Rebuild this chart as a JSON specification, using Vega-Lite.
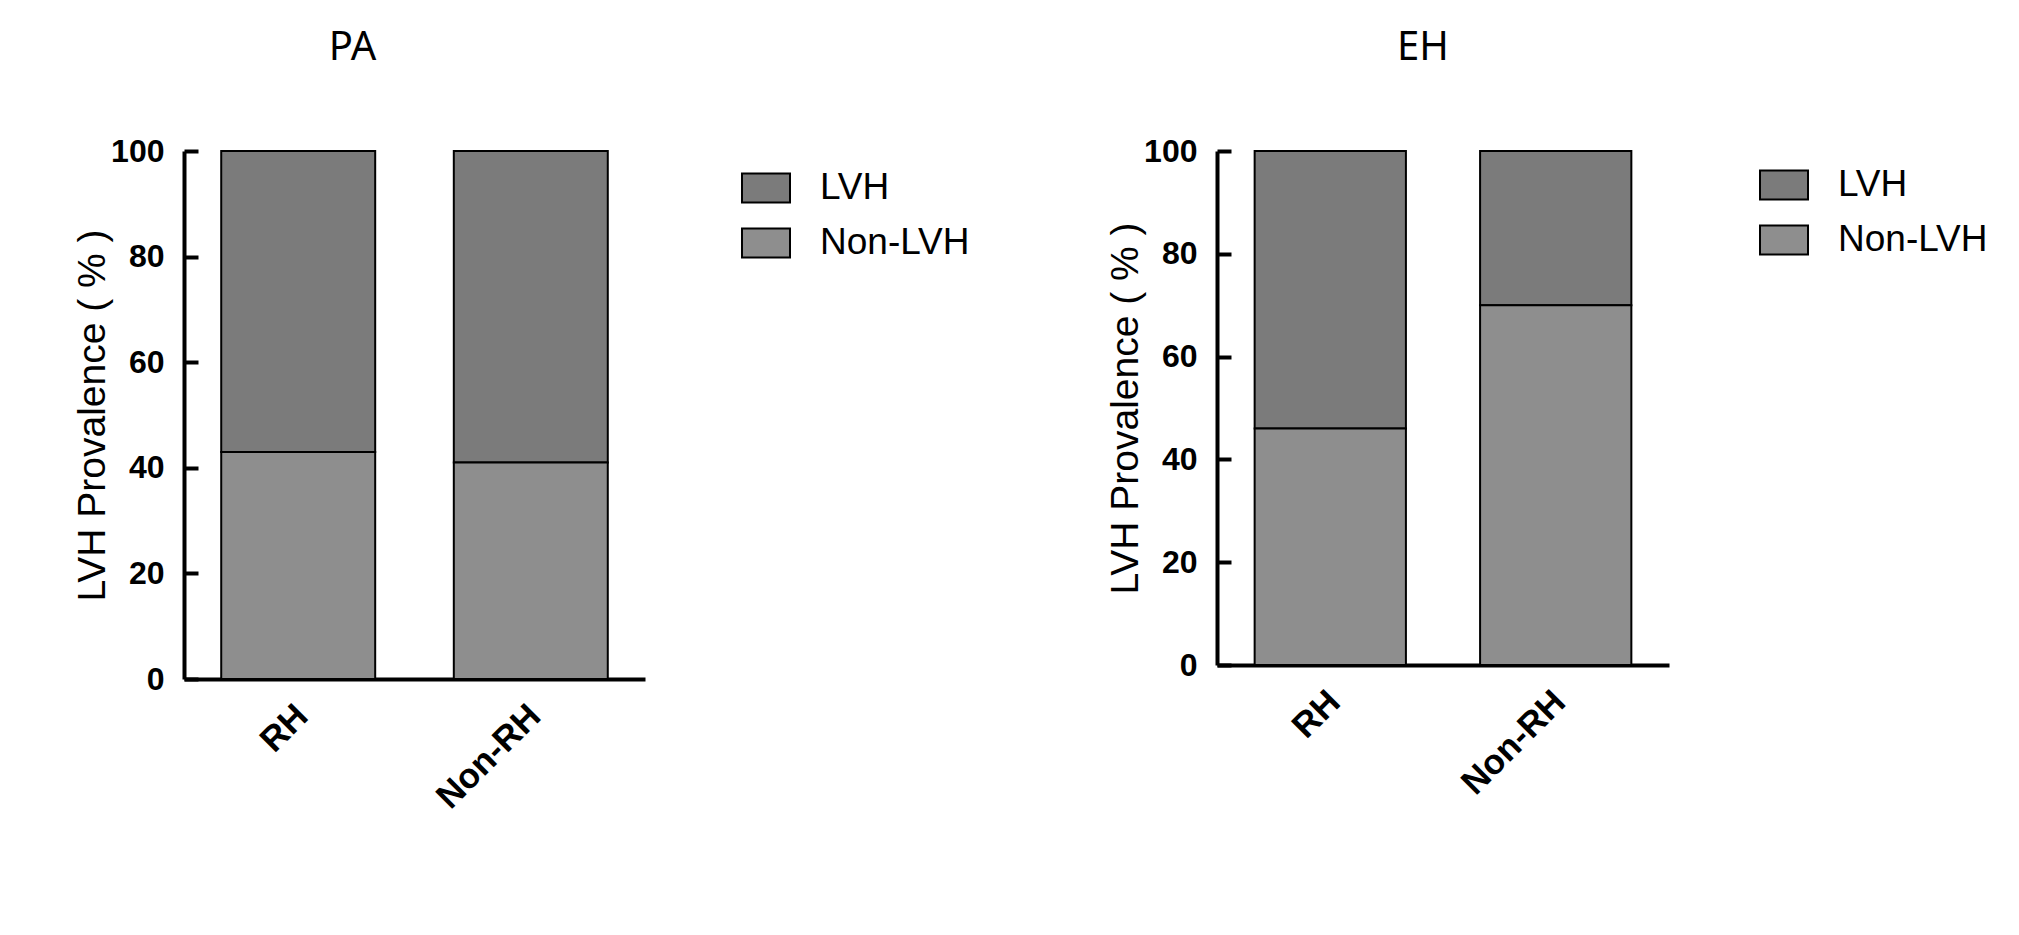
{
  "$schema": "https://vega.github.io/schema/vega-lite/v6.json",
  "background": "white",
  "padding": {"left": 73, "top": 28, "right": 0, "bottom": 0},
  "datasets": {
    "pa": [
      {"group": "RH", "status": "LVH", "value": 57},
      {"group": "RH", "status": "Non-LVH", "value": 43},
      {"group": "Non-RH", "status": "LVH", "value": 59},
      {"group": "Non-RH", "status": "Non-LVH", "value": 41}
    ],
    "eh": [
      {"group": "RH", "status": "LVH", "value": 54},
      {"group": "RH", "status": "Non-LVH", "value": 46},
      {"group": "Non-RH", "status": "LVH", "value": 30},
      {"group": "Non-RH", "status": "Non-LVH", "value": 70}
    ]
  },
  "config": {
    "view": {"stroke": null},
    "font": "Liberation Sans",
    "axis": {
      "labelFont": "Liberation Sans",
      "labelFontWeight": "bold",
      "labelFontSize": 32,
      "labelColor": "black",
      "domainColor": "black",
      "domainWidth": 4,
      "tickColor": "black",
      "tickWidth": 4,
      "grid": false,
      "titleFont": "Liberation Sans",
      "titleFontWeight": "normal",
      "titleFontSize": 39,
      "titleColor": "black"
    },
    "legend": {
      "labelFont": "Liberation Sans",
      "labelFontSize": 37,
      "labelColor": "black",
      "symbolType": "M-1,-0.6L1,-0.6L1,0.6L-1,0.6Z",
      "symbolSize": 2304,
      "symbolStrokeColor": "black",
      "symbolStrokeWidth": 2,
      "symbolOpacity": 1,
      "labelOffset": 29,
      "rowPadding": 11,
      "padding": 0
    },
    "title": {
      "font": "Noto Sans",
      "fontSize": 40,
      "fontWeight": "normal",
      "color": "black"
    }
  },
  "spacing": 136,
  "resolve": {"legend": {"fill": "independent"}, "scale": {"fill": "independent", "y": "independent", "x": "independent"}},
  "hconcat": [
    {
      "title": {"text": "PA", "anchor": "middle", "dx": -62, "offset": 67},
      "data": {"name": "pa"},
      "width": 461,
      "height": 528,
      "mark": {"type": "bar", "stroke": "black", "strokeWidth": 2, "opacity": 1},
      "encoding": {
        "x": {
          "field": "group", "type": "nominal", "sort": ["RH", "Non-RH"],
          "scale": {"paddingInner": 0.338, "paddingOuter": 0.16},
          "axis": {"title": null, "ticks": false, "labelAngle": -45, "labelAlign": "right", "labelBaseline": "middle", "labelPadding": 31, "labelOffset": 4, "labelFontSize": 35}
        },
        "y": {
          "field": "value", "type": "quantitative", "stack": "zero",
          "scale": {"domain": [0, 100], "nice": false},
          "axis": {"title": "LVH Provalence ( % )", "values": [0, 20, 40, 60, 80, 100], "tickSize": -14, "labelPadding": 34, "titlePadding": -2}
        },
        "fill": {
          "field": "status", "type": "nominal",
          "scale": {"domain": ["LVH", "Non-LVH"], "range": ["#7b7b7b", "#8e8e8e"]},
          "legend": {"title": null, "orient": "none", "legendX": 557, "legendY": 12}
        },
        "order": {"field": "status", "sort": "descending"}
      }
    },
    {
      "title": {"text": "EH", "anchor": "middle", "dx": -20, "offset": 67},
      "data": {"name": "eh"},
      "width": 452,
      "height": 514,
      "mark": {"type": "bar", "stroke": "black", "strokeWidth": 2, "opacity": 1},
      "encoding": {
        "x": {
          "field": "group", "type": "nominal", "sort": ["RH", "Non-RH"],
          "scale": {"paddingInner": 0.329, "paddingOuter": 0.167},
          "axis": {"title": null, "ticks": false, "labelAngle": -45, "labelAlign": "right", "labelBaseline": "middle", "labelPadding": 31, "labelOffset": 4, "labelFontSize": 35}
        },
        "y": {
          "field": "value", "type": "quantitative", "stack": "zero",
          "scale": {"domain": [0, 100], "nice": false},
          "axis": {"title": "LVH Provalence ( % )", "values": [0, 20, 40, 60, 80, 100], "tickSize": -14, "labelPadding": 34, "titlePadding": -2}
        },
        "fill": {
          "field": "status", "type": "nominal",
          "scale": {"domain": ["LVH", "Non-LVH"], "range": ["#7b7b7b", "#8e8e8e"]},
          "legend": {"title": null, "orient": "none", "legendX": 542, "legendY": 9}
        },
        "order": {"field": "status", "sort": "descending"}
      }
    }
  ]
}
